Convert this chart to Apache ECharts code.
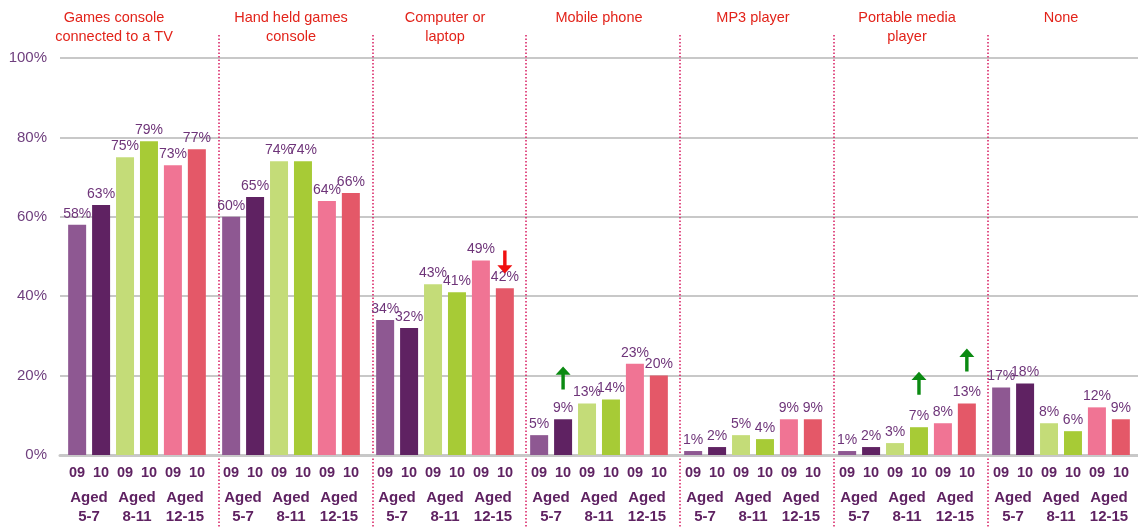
<!DOCTYPE html>
<html>
<head>
<meta charset="utf-8">
<script src="https://cdn.jsdelivr.net/npm/echarts@6/dist/echarts.min.js"></script>
<style>
  html, body { margin: 0; padding: 0; background: #fff; }
  #chart { width: 1138px; height: 527px; }
</style>
</head>
<body>
<div id="chart"></div>
<script>
// categories (device groups)
var groups = ['Games console\nconnected to a TV', 'Hand held games\nconsole', 'Computer or\nlaptop',
              'Mobile phone', 'MP3 player', 'Portable media\nplayer', 'None'];
var years = ['09', '10'];
var ages = ['5-7', '8-11', '12-15'];

// series values, % per group
var aged57_09   = [58, 60, 34, 5, 1, 1, 17];
var aged57_10   = [63, 65, 32, 9, 2, 2, 18];
var aged811_09  = [75, 74, 43, 13, 5, 3, 8];
var aged811_10  = [79, 74, 41, 14, 4, 7, 6];
var aged1215_09 = [73, 64, 49, 23, 9, 8, 12];
var aged1215_10 = [77, 66, 42, 20, 9, 13, 9];

// change arrows: [series index, group index, value where arrow sits, direction]
var arrows = [
  [5, 2, 48.6, 'down'],
  [1, 3, 19.4, 'up'],
  [3, 5, 18.1, 'up'],
  [5, 5, 23.9, 'up']
];

var colors = ['#8E5892', '#5F2262', '#C4DC78', '#A7CB36', '#F07494', '#E45868'];
var seriesData = [aged57_09, aged57_10, aged811_09, aged811_10, aged1215_09, aged1215_10];

var upPath = 'path://M7,0 L14,8 L8.6,8 L8.6,22 L5.4,22 L5.4,8 L0,8 Z';
var downPath = 'path://M5.4,0 L8.6,0 L8.6,14 L14,14 L7,22 L0,14 L5.4,14 Z';

var myChart = echarts.init(document.getElementById('chart'));

// bottom label: 09 10 ... / Aged ... / 5-7 ...
function bottomLabel() {
  var l1 = '', l2 = '', l3 = '';
  ages.forEach(function (a) {
    years.forEach(function (y) { l1 += '{y|' + y + '}'; });
    l2 += '{a|Aged}';
    l3 += '{a|' + a + '}';
  });
  return l1 + '\n' + l2 + '\n' + l3;
}

var series = seriesData.map(function (d, i) {
  var marks = arrows.filter(function (a) { return a[0] === i; }).map(function (a) {
    return {
      coord: [groups[a[1]], a[2]],
      symbol: a[3] === 'up' ? upPath : downPath,
      symbolSize: [15, 23],
      itemStyle: { color: a[3] === 'up' ? '#0B8A12' : '#F01010' }
    };
  });
  return {
    name: 'Aged ' + ages[Math.floor(i / 2)] + ' ' + years[i % 2],
    type: 'bar',
    xAxisIndex: 0,
    yAxisIndex: 0,
    data: d,
    barWidth: 18,
    barGap: '33%',
    itemStyle: { color: colors[i] },
    label: {
      show: true,
      position: 'top',
      distance: 4,
      formatter: '{c}%',
      color: '#6E3479',
      fontSize: 14,
      fontFamily: 'Liberation Sans'
    },
    markPoint: marks.length ? { data: marks, label: { show: false }, silent: true } : undefined
  };
});

// empty series so the separator grid is drawn
series.push({ type: 'scatter', xAxisIndex: 2, yAxisIndex: 1, data: [] });

var option = {
  backgroundColor: '#fff',
  animation: false,
  textStyle: { fontFamily: 'Liberation Sans' },
  grid: [
    { left: 60, width: 1078, top: 58, bottom: 72, outerBoundsMode: 'none', containLabel: false },
    { left: 65, width: 1076, top: 35, bottom: 0, outerBoundsMode: 'none', containLabel: false }
  ],
  xAxis: [
    {
      gridIndex: 0,
      type: 'category',
      data: groups,
      axisLine: { lineStyle: { color: '#C8C8C8', width: 3 } },
      axisTick: { show: false },
      axisLabel: {
        interval: 0,
        margin: 3,
        formatter: bottomLabel,
        color: '#5F2262',
        fontSize: 15,
        rich: {
          y: { width: 24, align: 'center', lineHeight: 30, fontSize: 14.5, fontWeight: 'bold', color: '#5F2262' },
          a: { width: 48, align: 'center', lineHeight: 19, fontSize: 15, fontWeight: 'bold', color: '#5F2262' }
        }
      }
    },
    {
      gridIndex: 0,
      type: 'category',
      position: 'top',
      data: groups.map(function (g, i) {
        return i === 0 ? { value: g, textStyle: { padding: [0, 46, 0, 0], verticalAlign: 'top' } } : g;
      }),
      axisLine: { show: false },
      axisTick: { show: false },
      axisLabel: {
        interval: 0,
        margin: 50,
        verticalAlign: 'top',
        color: '#E2231A',
        fontSize: 14.5,
        lineHeight: 19
      }
    },
    {
      gridIndex: 1,
      type: 'value',
      min: 0,
      max: 7,
      interval: 1,
      axisLine: { show: false },
      axisTick: { show: false },
      axisLabel: { show: false },
      splitLine: {
        show: true,
        showMinLine: false,
        showMaxLine: false,
        lineStyle: { color: '#D81B60', width: 1.5, type: [1.5, 2] }
      }
    }
  ],
  yAxis: [
    {
      gridIndex: 0,
      type: 'value',
      min: 0,
      max: 100,
      interval: 20,
      axisLine: { show: false },
      axisTick: { show: false },
      axisLabel: { formatter: '{value}%', color: '#6F3F7E', fontSize: 15, margin: 13 },
      splitLine: { lineStyle: { color: '#C8C8C8', width: 2 } }
    },
    {
      gridIndex: 1,
      type: 'value',
      show: false
    }
  ],
  series: series
};

myChart.setOption(option);
</script>
</body>
</html>
